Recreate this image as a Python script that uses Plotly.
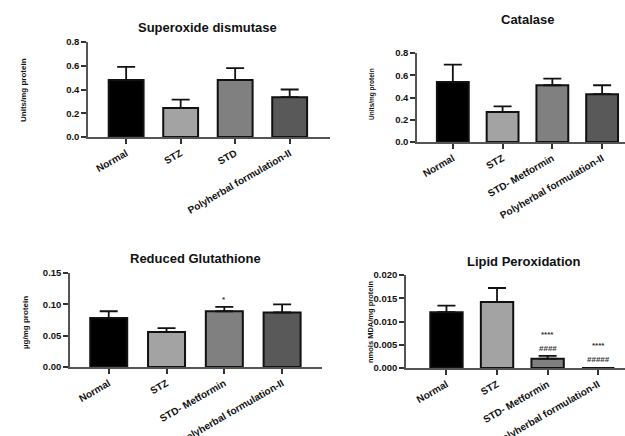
import plotly.graph_objects as go

# ---------------- data ----------------
sod_labels = ["Normal", "STZ", "STD", "Polyherbal formulation-II"]
sod_mean = [0.48, 0.245, 0.48, 0.335]
sod_sem = [0.11, 0.07, 0.10, 0.065]

cat_labels = ["Normal", "STZ", "STD- Metformin", "Polyherbal formulation-II"]
cat_mean = [0.54, 0.27, 0.51, 0.43]
cat_sem = [0.155, 0.05, 0.06, 0.08]

gsh_labels = ["Normal", "STZ", "STD- Metformin", "Polyherbal formulation-II"]
gsh_mean = [0.078, 0.056, 0.089, 0.087]
gsh_sem = [0.011, 0.006, 0.007, 0.013]

lpo_labels = ["Normal", "STZ", "STD- Metformin", "Polyherbal formulation-II"]
lpo_mean = [0.012, 0.0142, 0.002, 0.0]
lpo_sem = [0.0014, 0.003, 0.0006, 0.0]

bar_colors = ["#000000", "#a3a3a3", "#808080", "#595959"]

# significance marks: (panel, category index, y value, text)
sig_panel = [3, 4, 4, 4, 4]
sig_cat = [2, 2, 2, 3, 3]
sig_y = [0.107, 0.0071, 0.0043, 0.0049, 0.0019]
sig_text = ["*", "****", "####", "****", "#####"]

titles = ["Superoxide dismutase", "Catalase", "Reduced Glutathione", "Lipid Peroxidation"]
ytitles = ["Units/mg protein", "Units/mg protein", "µg/mg protein", "nmols MDA/mg protein"]
yranges = [[0, 0.8], [0, 0.8], [0, 0.15], [0, 0.02]]
ydticks = [0.2, 0.2, 0.05, 0.005]
yformats = [".1f", ".1f", ".2f", ".3f"]

W, H = 625, 436
FONT = "Liberation Sans, Arial, sans-serif"

# layout geometry (pixels)
panels = [
    dict(x0=88, x1=330, yt=42, yb=137, xr=[-0.70, 3.74], tx=207, ty=27, ax=23, ay=90, ys=8),
    dict(x0=417, x1=625, yt=53, yb=142, xr=[-0.72, 3.46], tx=527, ty=19, ax=372, ay=94, ys=6.5),
    dict(x0=70, x1=322, yt=273, yb=367, xr=[-0.67, 3.69], tx=195, ty=258, ax=25, ay=323, ys=8),
    dict(x0=406, x1=625, yt=275, yb=368, xr=[-0.80, 3.53], tx=523, ty=261, ax=370, ay=322, ys=7.5),
]

labels_all = [sod_labels, cat_labels, gsh_labels, lpo_labels]
means_all = [sod_mean, cat_mean, gsh_mean, lpo_mean]
sems_all = [sod_sem, cat_sem, gsh_sem, lpo_sem]

fig = go.Figure()
annotations = []

for i in range(4):
    n = i + 1
    sfx = "" if n == 1 else str(n)
    p = panels[i]
    xs = list(range(len(labels_all[i])))
    fig.add_trace(go.Bar(
        x=xs, y=means_all[i],
        width=0.64,
        marker=dict(color=bar_colors, line=dict(color="#111111", width=2)),
        error_y=dict(type="data", array=sems_all[i], arrayminus=[0] * len(xs),
                     symmetric=False, color="#111111", thickness=1.8, width=9),
        xaxis="x" + sfx, yaxis="y" + sfx, showlegend=False, hoverinfo="skip",
    ))
    fig.layout["xaxis" + sfx] = dict(
        domain=[p["x0"] / W, p["x1"] / W], range=p["xr"], anchor="y" + sfx,
        tickmode="array", tickvals=xs, ticktext=labels_all[i], automargin=False,
        tickangle=-30, ticks="outside", ticklen=5, tickwidth=1.5, tickcolor="#333",
        showline=True, linecolor="#555", linewidth=1.5, showgrid=False, zeroline=False,
        tickfont=dict(family=FONT, size=10, color="#111", weight="bold"),
    )
    fig.layout["yaxis" + sfx] = dict(
        domain=[1 - p["yb"] / H, 1 - p["yt"] / H], range=yranges[i], anchor="x" + sfx,
        dtick=ydticks[i], tick0=0, tickformat=yformats[i], automargin=False,
        ticks="outside", ticklen=5, tickwidth=1.5, tickcolor="#333",
        showline=True, linecolor="#555", linewidth=1.5, showgrid=False, zeroline=False,
        tickfont=dict(family=FONT, size=9.5, color="#111", weight="bold"),
    )
    annotations.append(dict(
        text=titles[i], x=p["tx"] / W, y=1 - p["ty"] / H, xref="paper", yref="paper",
        showarrow=False, xanchor="center", yanchor="middle",
        font=dict(family=FONT, size=13, color="#111", weight="bold"),
    ))
    annotations.append(dict(
        text=ytitles[i], x=p["ax"] / W, y=1 - p["ay"] / H, xref="paper", yref="paper",
        showarrow=False, xanchor="center", yanchor="middle", textangle=-90,
        font=dict(family=FONT, size=p["ys"], color="#111", weight="bold"),
    ))

for k in range(len(sig_text)):
    sfx = "" if sig_panel[k] == 1 else str(sig_panel[k])
    annotations.append(dict(
        text=sig_text[k], x=sig_cat[k], y=sig_y[k], xref="x" + sfx, yref="y" + sfx,
        showarrow=False, xanchor="center", yanchor="middle",
        font=dict(family=FONT, size=8, color="#333", weight="bold"),
    ))

fig.update_layout(
    width=W, height=H, margin=dict(l=0, r=0, t=0, b=0, autoexpand=False),
    paper_bgcolor="white", plot_bgcolor="white",
    annotations=annotations, bargap=0.3, hovermode=False,
)

fig.write_html("out.html", config={"displayModeBar": False},
               post_script="document.body.style.margin='0px';document.body.style.overflow='hidden';")
